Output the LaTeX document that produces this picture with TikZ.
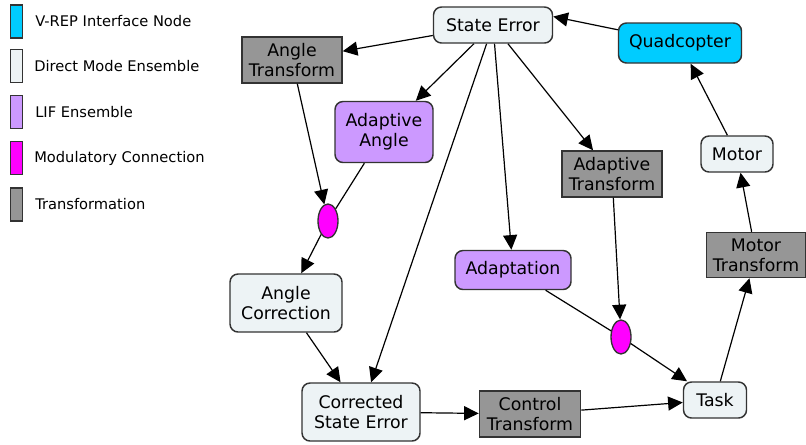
\documentclass[tikz,border=0pt]{standalone}
\usepackage{fontspec}
\setmainfont{DejaVu Sans}
\usetikzlibrary{arrows.meta,shapes.geometric}
\definecolor{directfill}{HTML}{EDF3F5}
\definecolor{vrepfill}{HTML}{00CCFF}
\definecolor{liffill}{HTML}{CC99FF}
\definecolor{modfill}{HTML}{FF00FF}
\definecolor{transfill}{HTML}{969696}
\definecolor{edgegray}{HTML}{333333}
\def\px{0.75pt}
\tikzset{
  base/.style={draw=edgegray, line width=1.1pt, inner sep=0pt, align=center,
    text=black, font=\fontsize{13}{15}\selectfont},
  direct/.style={base, fill=directfill, rounded corners=6pt},
  vrep/.style={base, fill=vrepfill, rounded corners=6pt},
  lif/.style={base, fill=liffill, rounded corners=6pt},
  trans/.style={base, fill=transfill},
  modnode/.style={draw=edgegray, line width=1pt, fill=modfill, ellipse,
    inner sep=0pt, minimum width=20*\px, minimum height=34*\px},
  swatch/.style={draw=edgegray, line width=1pt, inner sep=0pt,
    minimum width=12*\px, minimum height=33*\px},
  legtext/.style={anchor=west, inner sep=0pt, font=\fontsize{11}{13}\selectfont},
  edge/.style={draw=black, line width=0.9pt,
    -{Triangle[length=11pt,width=10.5pt]}},
  link/.style={draw=black, line width=0.9pt},
}
\begin{document}
\begin{tikzpicture}[x=0.75pt,y=-0.75pt]
\useasboundingbox (0,0) rectangle (806,444);

% legend
\node[swatch, fill=vrepfill]   (s1) at (16.5,21.5) {};
\node[swatch, fill=directfill] (s2) at (16.5,66)   {};
\node[swatch, fill=liffill]    (s3) at (16.5,112)  {};
\node[swatch, fill=modfill]    (s4) at (16.5,158)  {};
\node[swatch, fill=transfill]  (s5) at (16.5,204.5){};
\node[legtext] (l1) at (35,21)  {V-REP Interface Node};
\node[legtext] (l2) at (34,66)  {Direct Mode Ensemble};
\node[legtext] (l3) at (35,112) {LIF Ensemble};
\node[legtext] (l4) at (34,158) {Modulatory Connection};
\node[legtext] (l5) at (35,204) {Transformation};

% network nodes
\node[direct, minimum width=119*\px, minimum height=36*\px] (se)   at (493,25)  {State Error};
\node[vrep,   minimum width=123*\px, minimum height=40*\px] (quad) at (680,43)  {Quadcopter};
\node[trans,  minimum width=100*\px, minimum height=46*\px] (at)   at (292,60)  {Angle\\Transform};
\node[lif,    minimum width=98*\px,  minimum height=61*\px] (aa)   at (384,132) {Adaptive\\Angle};
\node[trans,  minimum width=100*\px, minimum height=46*\px] (adt)  at (612,174) {Adaptive\\Transform};
\node[direct, minimum width=72*\px,  minimum height=36*\px] (mot)  at (737,154) {Motor};
\node[trans,  minimum width=99*\px,  minimum height=45*\px] (mt)   at (756,255) {Motor\\Transform};
\node[modnode] (m1) at (328,221) {};
\node[direct, minimum width=112*\px, minimum height=58*\px] (ac)   at (286,303) {Angle\\Correction};
\node[lif,    minimum width=116*\px, minimum height=39*\px] (adp)  at (513,270) {Adaptation};
\node[modnode] (m2) at (621,337) {};
\node[direct, minimum width=118*\px, minimum height=58*\px] (cse)  at (361,412) {Corrected\\State Error};
\node[trans,  minimum width=101*\px, minimum height=46*\px] (ct)   at (530,414) {Control\\Transform};
\node[direct, minimum width=63*\px,  minimum height=36*\px] (task) at (715,400) {Task};

% connections
\draw[edge] (quad.168) -- (se.8);
\draw[edge] (se) -- (at);
\draw[edge] (se) -- (aa);
\draw[edge] (se) -- (cse);
\draw[edge] (se) -- (adp);
\draw[edge] (se) -- (adt);
\draw[edge] (mot) -- (quad);
\draw[edge] (mt) -- (mot);
\draw[edge] (task) -- (mt);
\draw[edge] (at) -- (m1);
\draw[link] (aa) -- (m1);
\draw[edge] (m1) -- (ac);
\draw[edge] (ac) -- (cse);
\draw[edge] (adt) -- (m2);
\draw[link] (adp) -- (m2);
\draw[edge] (m2) -- (task);
\draw[edge] (cse) -- (ct);
\draw[edge] (ct) -- (task);
\end{tikzpicture}
\end{document}
